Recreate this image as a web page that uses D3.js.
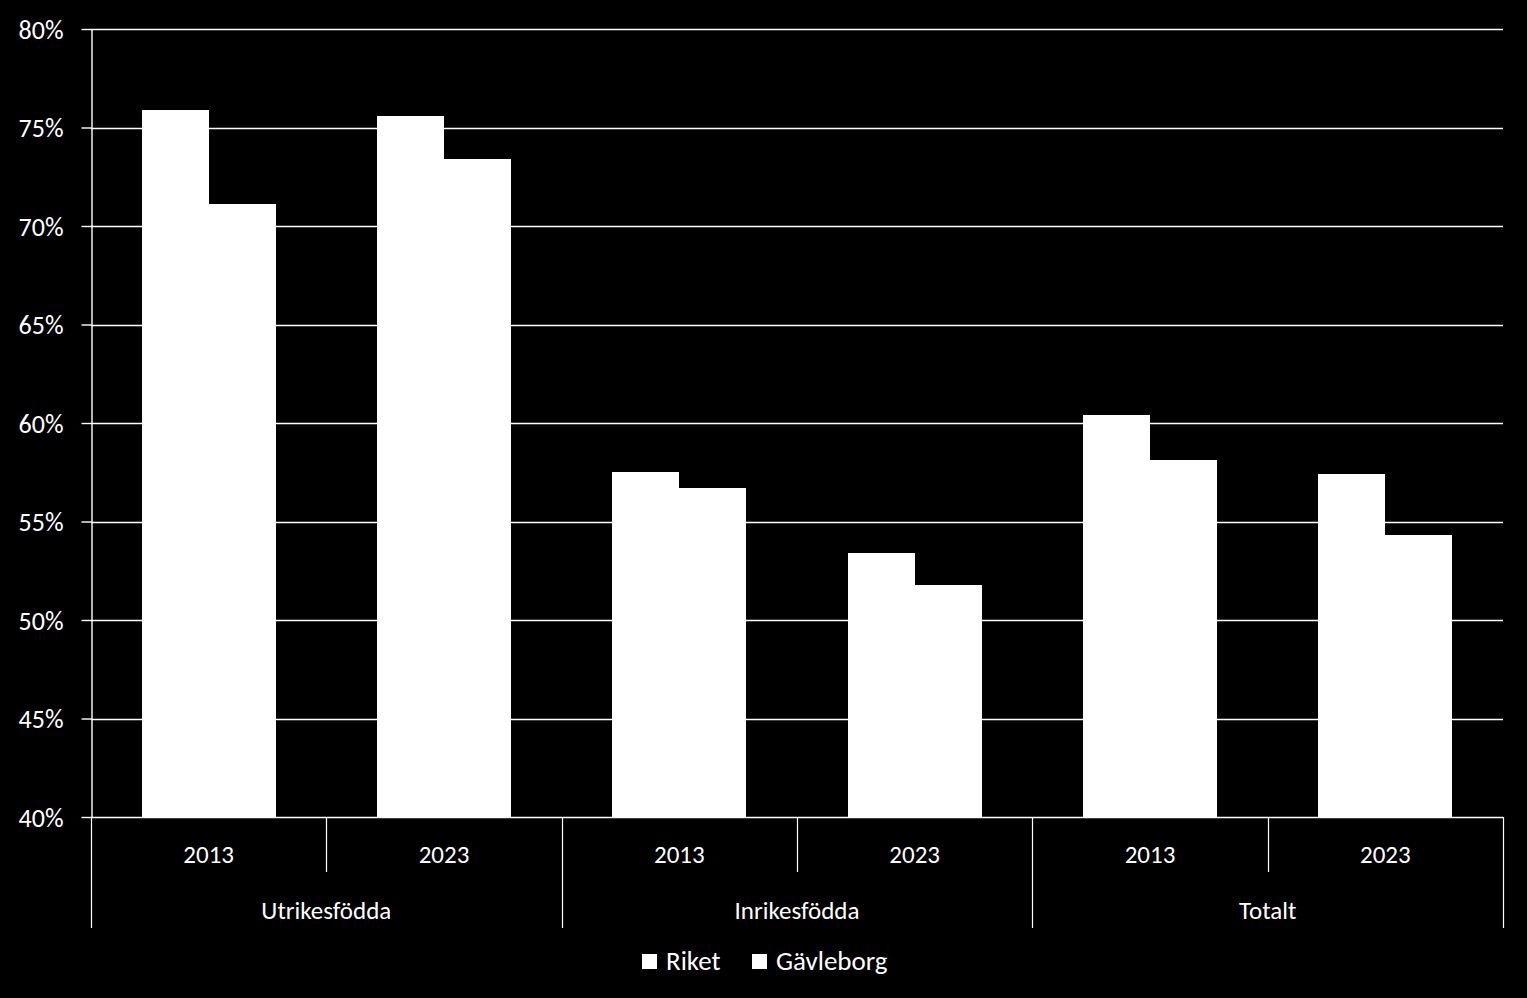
<!DOCTYPE html>
<html><head><meta charset="utf-8">
<script src="https://cdn.jsdelivr.net/npm/d3@7"></script>
<style>
html,body{margin:0;padding:0;background:#000;}
svg{display:block;}
text{font-family:Carlito,Calibri,Lato,"Open Sans",sans-serif;fill:#fff;}
</style></head>
<body>
<script>
const groups = ["Utrikesfödda","Inrikesfödda","Totalt"];
const years = ["2013","2023"];
const seriesNames = ["Riket","Gävleborg"];
const riket =     [75.9, 75.6, 57.5, 53.4, 60.4, 57.4];
const gavleborg = [71.1, 73.4, 56.7, 51.8, 58.1, 54.3];
const yTicks = [40,45,50,55,60,65,70,75,80];

(function(){
const W = 1527, H = 998;
const mLeft = 91, mRight = 1503, mTop = 29, mBottom = 817;

const svg = d3.select("body").append("svg").attr("width", W).attr("height", H).style("background","#000");

const cats = [];
groups.forEach(g => years.forEach(yr => cats.push(g + "|" + yr)));

const x0 = d3.scaleBand().domain(cats).range([mLeft, mRight]).paddingInner(0).paddingOuter(0);
const x1 = d3.scaleBand().domain(seriesNames).range([0, x0.bandwidth()]).paddingInner(0).paddingOuter(0.756);
const y = d3.scaleLinear().domain([40, 80]).range([mBottom, mTop]);

// gridlines
svg.append("g").selectAll("line").data(yTicks.slice(1)).join("line")
  .attr("x1", mLeft).attr("x2", mRight)
  .attr("y1", d => Math.round(y(d)) + 0.5).attr("y2", d => Math.round(y(d)) + 0.5)
  .attr("stroke", "#fff").attr("stroke-width", 1.4);

// bars
const data = cats.map((c, i) => ({cat: c, values: [riket[i], gavleborg[i]]}));
const gBars = svg.append("g").attr("shape-rendering", "crispEdges");
data.forEach(d => {
  d.values.forEach((v, j) => {
    const bx = Math.round(x0(d.cat) + x1(seriesNames[j]));
    const bx2 = Math.round(x0(d.cat) + x1(seriesNames[j]) + x1.bandwidth());
    gBars.append("rect")
      .attr("x", bx)
      .attr("width", bx2 - bx)
      .attr("y", Math.round(y(v)))
      .attr("height", Math.round(y(40)) - Math.round(y(v)))
      .attr("fill", "#fff");
  });
});

// y axis
const yAxis = d3.axisLeft(y).tickValues(yTicks).tickSize(10).tickSizeOuter(0).tickFormat(d => d + "%");
const ya = svg.append("g").attr("transform", `translate(${mLeft + 0.5},0)`).call(yAxis);
ya.select(".domain").attr("stroke", "#fff").attr("stroke-width", 1.4);
ya.selectAll(".tick line").attr("stroke", "#fff").attr("stroke-width", 1.4);
ya.selectAll(".tick text").attr("x", -28).attr("fill", "#fff").style("font-size", "26px").attr("dy", "0.35em");

// x axis line
svg.append("line").attr("x1", mLeft).attr("x2", mRight).attr("y1", mBottom + 0.5).attr("y2", mBottom + 0.5)
  .attr("stroke", "#fff").attr("stroke-width", 1.4);

// dividers
const xg = svg.append("g");
cats.forEach((c, i) => {
  const xx = x0(c);
  const isGroupEdge = i % 2 === 0;
  xg.append("line").attr("x1", Math.round(xx) + 0.5).attr("x2", Math.round(xx) + 0.5)
    .attr("y1", mBottom).attr("y2", isGroupEdge ? 928 : 872)
    .attr("stroke", "#fff").attr("stroke-width", 1.2);
});
xg.append("line").attr("x1", mRight + 0.5).attr("x2", mRight + 0.5).attr("y1", mBottom).attr("y2", 928)
  .attr("stroke", "#fff").attr("stroke-width", 1.2);

// year labels
xg.selectAll("text.yr").data(cats).join("text").attr("class", "yr")
  .attr("x", d => x0(d) + x0.bandwidth() / 2).attr("y", 854).attr("dy", "0.35em")
  .attr("text-anchor", "middle").style("font-size", "25px")
  .text(d => d.split("|")[1]);

// group labels
xg.selectAll("text.grp").data(groups).join("text").attr("class", "grp")
  .attr("x", g => x0(g + "|" + years[0]) + x0.bandwidth())
  .attr("y", 910).attr("dy", "0.35em")
  .attr("text-anchor", "middle").style("font-size", "25px")
  .text(g => g);

// legend
const legend = svg.append("g");
const legX = [642, 752];
seriesNames.forEach((s, i) => {
  legend.append("rect").attr("x", legX[i]).attr("y", 954).attr("width", 15).attr("height", 15).attr("fill", "#fff");
  legend.append("text").attr("x", legX[i] + 24).attr("y", 961).attr("dy", "0.35em")
    .style("font-size", "27px").text(s);
});
})();
</script>
</body></html>
